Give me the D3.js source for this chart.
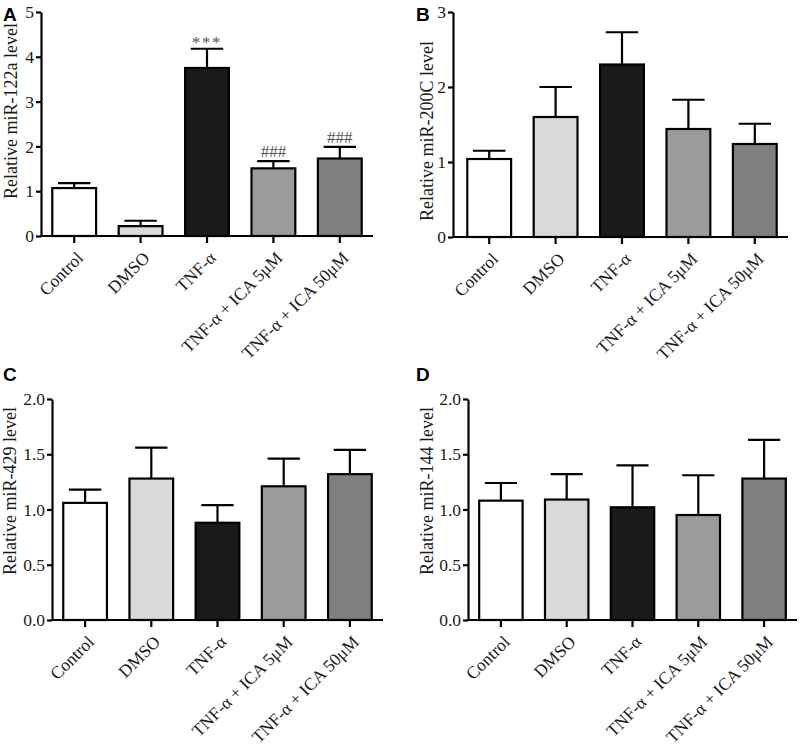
<!DOCTYPE html>
<html>
<head>
<meta charset="utf-8">
<script src="https://cdn.jsdelivr.net/npm/d3@7"></script>
<style>
	body { margin: 0; background: #fff; }
	.tick text { font-family: "Liberation Serif", "Times New Roman", serif; font-size: 17.5px; fill: #1a1a1a; }
	.ylabel { font-family: "Liberation Serif", "Times New Roman", serif; font-size: 18px; fill: #1a1a1a; }
	.letter { font-family: "Liberation Sans", Arial, sans-serif; font-size: 19px; font-weight: bold; fill: #000; }
	.note { font-family: "Liberation Serif", "Times New Roman", serif; font-size: 17px; fill: #555; }
</style>
</head>
<body>
<div id="figure"></div>
<script>
// frame size
const FRAME_WIDTH = 809;
const FRAME_HEIGHT = 746;

// groups (same for every panel)
const GROUPS = ["Control", "DMSO", "TNF-α", "TNF-α + ICA 5μM", "TNF-α + ICA 50μM"];
const FILLS = ["#ffffff", "#d9d9d9", "#1a1a1a", "#9b9b9b", "#7f7f7f"];

// panel A: miR-122a
const MIR122A_MEAN = [1.07, 0.22, 3.75, 1.51, 1.73];
const MIR122A_SEM = [0.11, 0.12, 0.43, 0.16, 0.26];
const MIR122A_NOTE = ["", "", "***", "###", "###"];
const MIR122A_TICKS = [0, 1, 2, 3, 4, 5];

// panel B: miR-200C
const MIR200C_MEAN = [1.04, 1.60, 2.30, 1.44, 1.24];
const MIR200C_SEM = [0.11, 0.40, 0.43, 0.39, 0.27];
const MIR200C_TICKS = [0, 1, 2, 3];

// panel C: miR-429
const MIR429_MEAN = [1.06, 1.28, 0.88, 1.21, 1.32];
const MIR429_SEM = [0.12, 0.28, 0.16, 0.25, 0.22];
const MIR429_TICKS = [0, 0.5, 1.0, 1.5, 2.0];

// panel D: miR-144
const MIR144_MEAN = [1.08, 1.09, 1.02, 0.95, 1.28];
const MIR144_SEM = [0.16, 0.23, 0.38, 0.36, 0.35];
const MIR144_TICKS = [0, 0.5, 1.0, 1.5, 2.0];

// panel layout (pixel positions of each plot area)
const PANELS = [
	{letter: "A", mean: MIR122A_MEAN, sem: MIR122A_SEM, note: MIR122A_NOTE, ticks: MIR122A_TICKS, fmt: "d",
		label: "Relative miR-122a level", x0: 41, bandStart: 41, x1: 373, top: 12, bottom: 236,
		labelX: 17, labelY: 111, letterX: 3, letterY: 21},
	{letter: "B", mean: MIR200C_MEAN, sem: MIR200C_SEM, note: null, ticks: MIR200C_TICKS, fmt: "d",
		label: "Relative miR-200C level", x0: 453, bandStart: 456, x1: 788, top: 12, bottom: 237,
		labelX: 433, labelY: 131, letterX: 416, letterY: 21},
	{letter: "C", mean: MIR429_MEAN, sem: MIR429_SEM, note: null, ticks: MIR429_TICKS, fmt: ".1f",
		label: "Relative miR-429 level", x0: 52, bandStart: 52, x1: 383, top: 399, bottom: 620,
		labelX: 16, labelY: 491, letterX: 3, letterY: 381},
	{letter: "D", mean: MIR144_MEAN, sem: MIR144_SEM, note: null, ticks: MIR144_TICKS, fmt: ".1f",
		label: "Relative miR-144 level", x0: 468, bandStart: 468, x1: 797, top: 399, bottom: 620,
		labelX: 433, labelY: 491, letterX: 416, letterY: 381}
];

const FRAME = d3.select("#figure")
				.append("svg")
					.attr("width", FRAME_WIDTH)
					.attr("height", FRAME_HEIGHT);

// build one bar chart panel
function build_panel(p) {
	const G = FRAME.append("g");

	// x-axis scaling
	const X_SCALE = d3.scaleBand()
						.domain(GROUPS)
						.range([p.bandStart, p.x1])
						.paddingInner(0.34)
						.paddingOuter(0.17);

	// y-axis scaling
	const Y_SCALE = d3.scaleLinear()
						.domain([0, d3.max(p.ticks)])
						.range([p.bottom, p.top]);

	const data = GROUPS.map((g, i) => {return {group: g, mean: p.mean[i], sem: p.sem[i], fill: FILLS[i],
		note: p.note ? p.note[i] : ""};});

	// error bars (upper only)
	const cap = X_SCALE.bandwidth() * 0.37;
	G.selectAll(".err")
		.data(data)
		.enter()
		.append("path")
			.attr("d", (d) => {
				const cx = X_SCALE(d.group) + X_SCALE.bandwidth() / 2;
				const yt = Y_SCALE(d.mean + d.sem);
				return "M" + cx + "," + Y_SCALE(d.mean) + "V" + yt + "M" + (cx - cap) + "," + yt + "H" + (cx + cap);
			})
			.attr("stroke", "#000")
			.attr("stroke-width", 2.2)
			.attr("fill", "none");

	// bars
	G.selectAll(".bar")
		.data(data)
		.enter()
		.append("rect")
			.attr("x", (d) => {return X_SCALE(d.group);})
			.attr("y", (d) => {return Y_SCALE(d.mean);})
			.attr("width", X_SCALE.bandwidth())
			.attr("height", (d) => {return p.bottom - Y_SCALE(d.mean);})
			.attr("fill", (d) => {return d.fill;})
			.attr("stroke", "#000")
			.attr("stroke-width", 2.2);

	// significance marks
	G.selectAll(".note")
		.data(data.filter((d) => {return d.note;}))
		.enter()
		.append("text")
			.attr("class", "note")
			.attr("x", (d) => {return X_SCALE(d.group) + X_SCALE.bandwidth() / 2;})
			.attr("y", (d) => {return Y_SCALE(d.mean + d.sem) - (d.note == "***" ? 1 : 4);})
			.attr("text-anchor", "middle")
			.attr("letter-spacing", (d) => {return d.note == "***" ? "1.5px" : "0px";})
			.text((d) => {return d.note;});

	// add x-axis
	const xAxis = G.append("g")
					.attr("transform", "translate(0," + p.bottom + ")")
					.call(d3.axisBottom(X_SCALE).tickSize(7).tickSizeOuter(0));
	xAxis.select(".domain").attr("d", "M" + p.x0 + ",0H" + p.x1);
	xAxis.selectAll("line, .domain").attr("stroke", "#000").attr("stroke-width", 2.2);
	xAxis.selectAll("text")
			.attr("text-anchor", "end")
			.attr("transform", "translate(10,23) rotate(-45)")
			.attr("dy", 0)
			.attr("y", 0);

	// add y-axis
	const yAxis = G.append("g")
					.attr("transform", "translate(" + p.x0 + ",0)")
					.call(d3.axisLeft(Y_SCALE).tickValues(p.ticks).tickFormat(d3.format(p.fmt)).tickSize(5).tickSizeOuter(0).tickPadding(2));
	yAxis.selectAll("line, .domain").attr("stroke", "#000").attr("stroke-width", 2.2);

	// y-axis label
	G.append("text")
		.attr("class", "ylabel")
		.attr("transform", "translate(" + p.labelX + "," + p.labelY + ") rotate(-90)")
		.attr("text-anchor", "middle")
		.text(p.label);

	// panel letter
	G.append("text")
		.attr("class", "letter")
		.attr("x", p.letterX)
		.attr("y", p.letterY)
		.text(p.letter);
}

PANELS.forEach(build_panel);
</script>
</body>
</html>
